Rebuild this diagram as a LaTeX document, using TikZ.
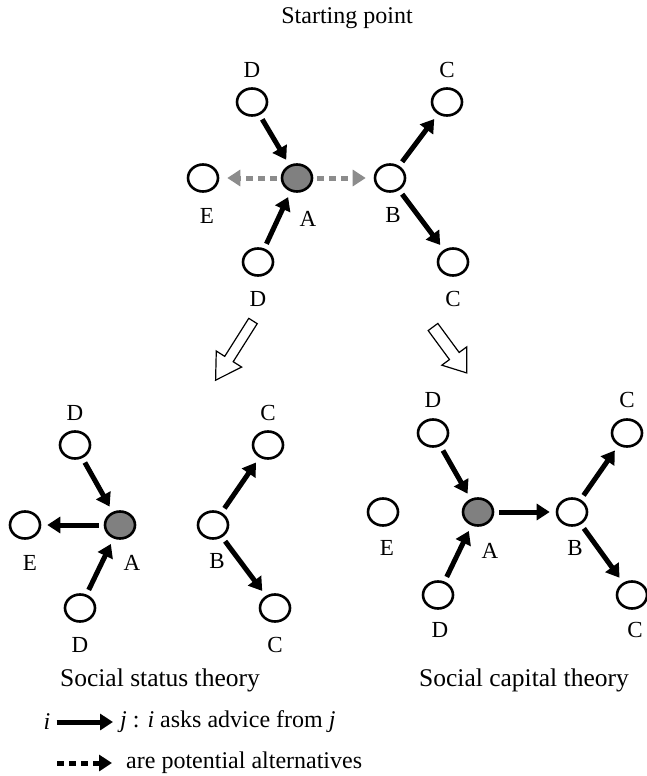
\documentclass[tikz,border=0pt]{standalone}
\usepackage{fontspec}
\setmainfont{Liberation Serif}
\usetikzlibrary{arrows.meta,positioning,shapes.geometric}
\definecolor{egogray}{RGB}{128,128,128}
\definecolor{altgray}{RGB}{140,140,140}

\begin{document}
\begin{tikzpicture}[x=1pt,y=-1pt,
    actor/.style={draw,ellipse,line width=2.6pt,minimum width=30pt,minimum height=27pt,inner sep=0pt},
    ego/.style={actor,fill=egogray},
    lbl/.style={font=\fontsize{23}{27}\selectfont,inner sep=0pt},
    ttl/.style={font=\fontsize{24}{28}\selectfont,inner sep=0pt},
    asks/.style={-{Triangle[length=13pt,width=16pt]},line width=5pt,shorten <=5pt,shorten >=6pt},
    alt/.style={-{Triangle[length=13pt,width=16pt]},line width=5pt,dash pattern=on 7pt off 5pt,altgray,shorten <=4pt,shorten >=8pt},
    hollow/.style={draw,line width=1.2pt,fill=white}
  ]
  \useasboundingbox (0,0) rectangle (646,776);

  % starting point
  \node[ttl] (start) at (347,18) {Starting point};
  \node[actor] (d1) at (252,102) {};
  \node[ego] (a) at (297,178) {};
  \node[actor] (e) at (203,178) {};
  \node[actor] (d2) at (258,262) {};
  \node[actor] (b) at (390,178) {};
  \node[actor] (c1) at (447,102) {};
  \node[actor] (c2) at (453,262) {};
  \node[lbl] (d1l) at (252,70) {D};
  \node[lbl] (al) at (308,219) {A};
  \node[lbl] (el) at (207,216) {E};
  \node[lbl] (d2l) at (258,299) {D};
  \node[lbl] (bl) at (393,215) {B};
  \node[lbl] (c1l) at (447,70) {C};
  \node[lbl] (c2l) at (453,299) {C};
  \draw[asks] (d1) -- (a);
  \draw[asks] (d2) -- (a);
  \draw[asks] (b) -- (c1);
  \draw[asks] (b) -- (c2);
  \draw[alt] (a) -- (e);
  \draw[alt] (a) -- (b);

  % hollow arrows to the two theories
  \draw[hollow,shift={(253,321)},rotate=-122.3]
    (0,-5) -- (45,-5) -- (45,-15) -- (70,0) -- (45,15) -- (45,5) -- (0,5) -- cycle;
  \draw[hollow,shift={(433,327)},rotate=-53.7]
    (0,-6) -- (36,-6) -- (36,-15.5) -- (57,0) -- (36,15.5) -- (36,6) -- (0,6) -- cycle;

  % social status theory
  \node[actor] (sd1) at (75,445) {};
  \node[ego] (sa) at (120,525) {};
  \node[actor] (se) at (25,525) {};
  \node[actor] (sd2) at (80,608) {};
  \node[actor] (sb) at (213,525) {};
  \node[actor] (sc1) at (268,445) {};
  \node[actor] (sc2) at (275,608) {};
  \node[lbl] (sd1l) at (75,413) {D};
  \node[lbl] (sal) at (132,563) {A};
  \node[lbl] (sel) at (30,563) {E};
  \node[lbl] (sd2l) at (80,645) {D};
  \node[lbl] (sbl) at (217,561) {B};
  \node[lbl] (sc1l) at (268,413) {C};
  \node[lbl] (sc2l) at (275,645) {C};
  \draw[asks] (sd1) -- (sa);
  \draw[asks] (sd2) -- (sa);
  \draw[asks] (sa) -- (se);
  \draw[asks] (sb) -- (sc1);
  \draw[asks] (sb) -- (sc2);
  \node[ttl,font=\fontsize{25.5}{30}\selectfont] (status) at (160,680) {Social status theory};

  % social capital theory
  \node[actor] (kd1) at (433,433) {};
  \node[ego] (ka) at (478,512) {};
  \node[actor] (ke) at (383,512) {};
  \node[actor] (kd2) at (438,595) {};
  \node[actor] (kb) at (572,512) {};
  \node[actor] (kc1) at (627,433) {};
  \node[actor] (kc2) at (632,595) {};
  \node[lbl] (kd1l) at (433,400) {D};
  \node[lbl] (kal) at (490,551) {A};
  \node[lbl] (kel) at (387,548) {E};
  \node[lbl] (kd2l) at (440,630) {D};
  \node[lbl] (kbl) at (575,548) {B};
  \node[lbl] (kc1l) at (627,400) {C};
  \node[lbl] (kc2l) at (635,630) {C};
  \draw[asks] (kd1) -- (ka);
  \draw[asks] (kd2) -- (ka);
  \draw[asks] (ka) -- (kb);
  \draw[asks] (kb) -- (kc1);
  \draw[asks] (kb) -- (kc2);
  \node[ttl,font=\fontsize{25.5}{30}\selectfont] (capital) at (524,680) {Social capital theory};

  % legend
  \node[ttl] (li) at (47,722) {\itshape i};
  \coordinate (lj) at (113,722);
  \node[ttl,anchor=west] (ltext) at (120,722) {\itshape j\upshape\ : \itshape i\upshape\ asks advice from \itshape j};
  \draw[asks,shorten <=0pt,shorten >=0pt] (li.east) ++(6,0) -- (lj);
  \coordinate (dstart) at (57,763);
  \coordinate (dend) at (112,763);
  \node[ttl,anchor=west] (lalt) at (126,763) {are potential alternatives};
  \draw[alt,black,shorten <=0pt,shorten >=0pt] (dstart) -- (dend);
\end{tikzpicture}
\end{document}
